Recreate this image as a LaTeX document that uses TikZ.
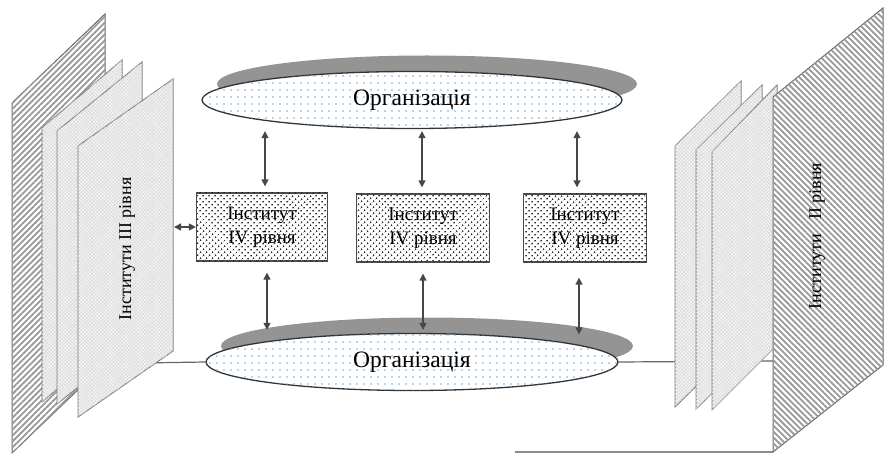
\documentclass[tikz,border=0pt]{standalone}
\usepackage{fontspec}
\setmainfont{Liberation Serif}
\usetikzlibrary{positioning,calc,shapes.geometric,shadows,patterns,patterns.meta,arrows.meta,backgrounds}
\definecolor{dotblue}{RGB}{110,168,225}

\begin{document}
\begin{tikzpicture}[x=1pt,y=-1pt,
  org/.style={ellipse,draw=black!80,line width=1.3pt,fill=white,minimum height=57pt,
    font=\fontsize{23.5}{26}\selectfont,
    postaction={pattern={Dots[distance=7pt,radius=.9pt]},pattern color=dotblue},
    drop shadow={shadow xshift=15pt,shadow yshift=16pt,opacity=1,fill=black!42}},
  inst/.style={rectangle,draw=black!70,line width=1.3pt,fill=white,minimum height=68pt,
    align=center,font=\fontsize{19}{24}\selectfont,
    postaction={pattern={Dots[distance=4pt,radius=.95pt,angle=45]},pattern color=black!85}},
  stripes/.style={draw=black!60,line width=1pt,fill=white,
    postaction={pattern={Lines[angle=#1,distance=4.2pt,line width=1.8pt]},pattern color=black!40}},
  leaf/.style={draw=black!50,line width=1pt,fill=black!4,
    postaction={pattern={Hatch[angle=45,distance=2.5pt,line width=.5pt]},pattern color=black!15}},
  link/.style={<->,>={Triangle[length=7pt,width=7pt]},draw=black!72,line width=1.4pt},
  wire/.style={draw=black!60,line width=1.2pt},
  side/.style={rotate=90,font=\fontsize{18}{20}\selectfont}]
\useasboundingbox (0,0) rectangle (885,454);

\path[stripes=45] (12,103) -- (105,14) -- (105,364) -- (12,453) -- cycle;
\path[leaf] (42,128) -- (122,60) -- (122,334) -- (42,402) -- cycle;
\path[leaf] (57,131) -- (142,62) -- (142,335) -- (57,404) -- cycle;
\path[leaf] (78,146) -- (173,79) -- (173,351) -- (78,417) -- cycle;
\node[side] (T3) at (127,249) {Інститути III рівня};

\path[leaf] (675,146) -- (741,81) -- (741,342) -- (675,407) -- cycle;
\path[leaf] (696,150) -- (762,85) -- (762,344) -- (696,409) -- cycle;
\path[leaf] (712,152) -- (777,85) -- (777,345) -- (712,410) -- cycle;
\path[stripes=-45] (773,97) -- (883,8) -- (883,365) -- (773,452) -- cycle;
\node[side] (T2) at (817,236) {Інститути\hspace{14pt}II рівня};

\coordinate (L4in) at (140,363);
\coordinate (L4r) at (174,227);
\coordinate (R4l) at (773,361);
\coordinate (R4b) at (773,452);
\coordinate (tail) at (515,452);

\node[org,minimum width=420pt] (O1) at (412,100) {Організація};
\node[org,minimum width=412pt] (O2) at (412,362) {Організація};
\node[inst,minimum width=131pt] (I1) at (262,227) {Інститут\\IV рівня};
\node[inst,minimum width=133pt] (I2) at (423,228) {Інститут\\IV рівня};
\node[inst,minimum width=123pt] (I3) at (585,228) {Інститут\\IV рівня};

\draw[link] ($(I1.north)+(3,-6)$) -- ($(I1.north |- O1.south)+(3,2)$);
\draw[link] ($(I2.north)+(-1,-6)$) -- ($(I2.north |- O1.south)+(-1,2)$);
\draw[link] ($(I3.north)+(-8,-6)$) -- ($(I3.north |- O1.south)+(-8,2)$);
\draw[link] ($(I1.south)+(5,11)$) -- ($(I1.south |- O2.north)+(5,-3)$);
\draw[link] ($(I2.south)+(0,11)$) -- ($(I2.south |- O2.north)+(0,-3)$);
\draw[link] ($(I3.south)+(-6,15)$) -- ($(I3.south |- O2.north)+(-6,1.5)$);
\draw[link] (L4r) -- (I1.west);

\begin{scope}[on background layer]
\draw[wire] (L4in) -- (O2.west);
\draw[wire] (O2.east) -- (R4l);
\draw[wire,black!45] (tail) -- (R4b);
\end{scope}
\end{tikzpicture}
\end{document}
